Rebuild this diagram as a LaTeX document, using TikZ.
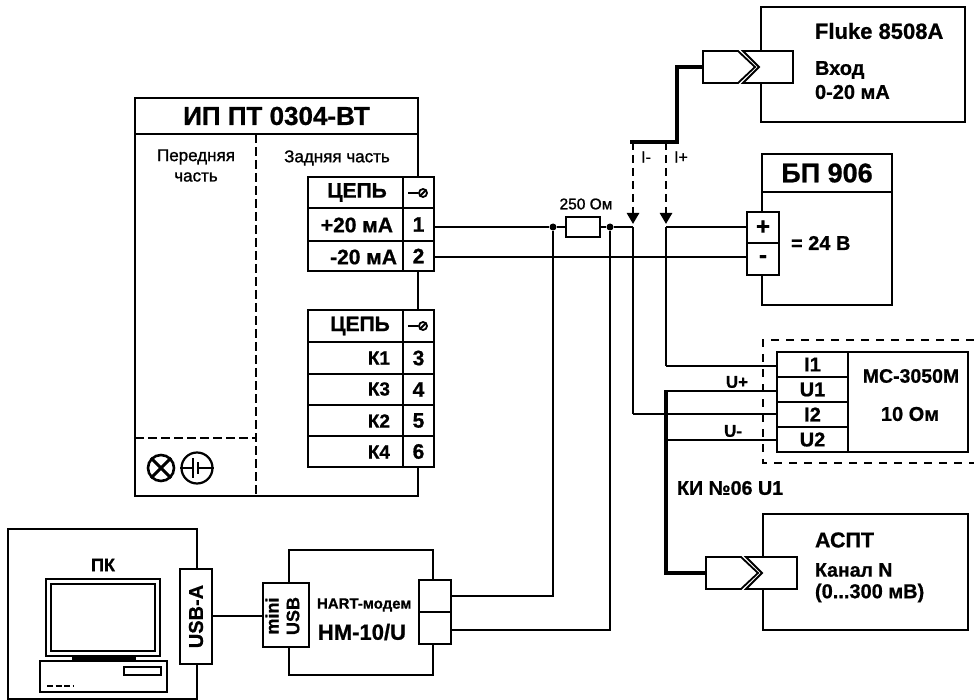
\documentclass[tikz,border=0pt]{standalone}
\usepackage{fontspec}
\usetikzlibrary{arrows.meta}
\setmainfont[BoldFeatures={FakeBold=0.8}]{Liberation Sans}
\newfontfamily\semi[FakeBold=1.2]{Liberation Sans}
\newcommand\fsz[1]{\fontsize{#1}{#1}\selectfont}
\newcommand\bfs[1]{\fontsize{#1}{#1}\selectfont\bfseries}
% \bx{name}{x1}{y1}{x2}{y2}{style}{text}
\newcommand\bx[7]{%
  \pgfmathsetmacro\bxx{(#2+#4)/2}\pgfmathsetmacro\bxy{(#3+#5)/2}%
  \pgfmathsetmacro\bxw{#4-#2}\pgfmathsetmacro\bxh{#5-#3}%
  \node[#6,minimum width=\bxw pt,minimum height=\bxh pt] (#1) at (\bxx,\bxy) {#7};}
% \plug{x}{y}{width}
\newcommand\plug[3]{%
  \begin{scope}[shift={(#1,#2)},line width=1.8pt,line join=miter]
    \draw[fill=white] (40,0) -- (#3,0) -- (#3,32) -- (40,32) -- (56,16) -- cycle;
    \draw[fill=white] (0,0) -- (35,0) -- (52,16) -- (35,32) -- (0,32) -- cycle;
  \end{scope}}
\tikzset{
  box/.style={draw,fill=white,line width=2.8pt,inner sep=0pt,outer sep=0pt},
  cell/.style={draw,fill=white,line width=2.4pt,inner sep=0pt,outer sep=0pt},
  thincell/.style={draw,line width=1.4pt,inner sep=0pt,outer sep=0pt},
  txt/.style={inner sep=0pt,outer sep=0pt},
  wire/.style={line width=1.9pt},
  vwire/.style={line width=2.5pt},
  bus/.style={line width=4pt},
  probe/.style={line width=2.6pt,dash pattern=on 8pt off 5pt,-{Triangle[width=12pt,length=11pt]}},
  dashbox/.style={line width=2.2pt,dash pattern=on 8pt off 7pt},
  joint/.style={circle,fill=black,inner sep=0pt,minimum size=7pt},
}
\begin{document}
\begin{tikzpicture}[x=1pt,y=-1pt]
\useasboundingbox (0,0) rectangle (974,700);
\fill[white] (0,0) rectangle (974,700);

% --- instrument
\bx{ip}{135}{98}{418}{496}{box}{}
\bx{iptitle}{135}{98}{418}{134}{box}{\bfs{26}ИП ПТ 0304-ВТ}
\coordinate (ipm) at (256,134);
\coordinate (ipb) at (256,496);
\coordinate (ipl) at (135,438);
\coordinate (ipc) at (256,438);
\draw[line width=2.3pt,dash pattern=on 9pt off 4pt] (ipm) -- (ipb);
\draw[line width=2.3pt,dash pattern=on 9pt off 4pt] (ipl) -- (ipc);
\node[txt] (front) at (196,157) {\semi\fsz{17}Передняя};
\node[txt] (front2) at (196,177) {\semi\fsz{17}часть};
\node[txt] (back) at (337,158) {\semi\fsz{17}Задняя часть};

% --- terminal table 1
\bx{a0}{308}{177}{403}{208}{cell}{\hspace{3pt}\bfs{21}ЦЕПЬ}
\bx{a1}{308}{208}{403}{241}{cell}{}
\bx{a2}{308}{241}{403}{271}{cell}{}
\bx{n0}{403}{177}{434}{208}{cell}{}
\bx{n1}{403}{208}{434}{241}{cell}{\bfs{21}1}
\bx{n2}{403}{241}{434}{271}{cell}{\bfs{21}2}
\node[txt,anchor=east] (ta1) at (393,225) {\bfs{21}+20 мА};
\node[txt,anchor=east] (ta2) at (397,257) {\bfs{21}-20 мА};
% --- terminal table 2
\bx{b0}{308}{310}{403}{342}{cell}{\hspace{9pt}\bfs{21}ЦЕПЬ}
\bx{b1}{308}{342}{403}{374}{cell}{}
\bx{b2}{308}{374}{403}{405}{cell}{}
\bx{b3}{308}{405}{403}{436}{cell}{}
\bx{b4}{308}{436}{403}{467}{cell}{}
\bx{m0}{403}{310}{434}{342}{cell}{}
\bx{m1}{403}{342}{434}{374}{cell}{\bfs{21}3}
\bx{m2}{403}{374}{434}{405}{cell}{\bfs{21}4}
\bx{m3}{403}{405}{434}{436}{cell}{\bfs{21}5}
\bx{m4}{403}{436}{434}{467}{cell}{\bfs{21}6}
\node[txt,anchor=east] (tb1) at (390,358) {\bfs{19}К1};
\node[txt,anchor=east] (tb2) at (390,389) {\bfs{19}К3};
\node[txt,anchor=east] (tb3) at (390,421) {\bfs{19}К2};
\node[txt,anchor=east] (tb4) at (390,452) {\bfs{19}К4};
% screw symbols
\node[circle,draw,line width=1.8pt,inner sep=0pt,minimum size=8pt] (s0) at (423,193) {};
\draw[line width=1.8pt] (408,193) -- (s0.west) (s0.south west) -- (s0.north east);
\node[circle,draw,line width=1.8pt,inner sep=0pt,minimum size=8pt] (s1) at (423,326) {};
\draw[line width=1.8pt] (408,326) -- (s1.west) (s1.south west) -- (s1.north east);
% panel symbols
\node[circle,draw,line width=2.6pt,inner sep=0pt,minimum size=26pt] (lamp) at (161,468) {};
\draw[line width=3pt] (lamp.north east) -- (lamp.south west) (lamp.north west) -- (lamp.south east);
\node[circle,draw,line width=2.2pt,inner sep=0pt,minimum size=31pt] (gnd) at (197,468) {};
\draw[line width=2pt] (gnd.west) -- (193,468) (193,458) -- (193,478) (198,462) -- (198,474) (198,468) -- (gnd.east);

% --- PC
\bx{pc}{8}{529}{197}{699}{box}{}
\node[txt] (pclabel) at (103,565) {\bfs{18}ПК};
\bx{mon}{46}{579}{160}{656}{draw,line width=1.6pt,inner sep=0pt}{}
\bx{scr}{51}{584}{155}{651}{draw,line width=2.6pt,inner sep=0pt}{}
\bx{stand}{72}{657}{135}{660}{draw,fill=black,line width=.6pt,inner sep=0pt}{}
\bx{base}{40}{661}{167}{692}{draw,line width=2pt,inner sep=0pt}{}
\bx{slot}{124}{667}{161}{675}{draw,line width=1.8pt,inner sep=0pt}{}
\draw[line width=2.6pt,dash pattern=on 6pt off 2.5pt] (47,686) -- (73,686);
\bx{usba}{180}{569}{212}{664}{cell}{\rotatebox{90}{\bfs{20}USB-A}}

% --- modem
\bx{modem}{289}{550}{433}{675}{box}{}
\bx{mini}{263}{583}{309}{647}{cell}{}
\node[txt,rotate=90] (tmini) at (272,616) {\bfs{18}mini};
\node[txt,rotate=90] (tusb) at (293,616) {\bfs{18}USB};
\node[txt,anchor=west] (thart) at (317,605) {\bfs{15}HART-модем};
\node[txt] (thm) at (362,632) {\bfs{22}НМ-10/U};
\bx{h1}{419}{580}{451}{612}{cell}{}
\bx{h2}{419}{612}{451}{644}{cell}{}

% --- Fluke
\bx{fluke}{761}{7}{965}{122}{box}{}
\plug{703}{51}{90}
\coordinate (fpl) at (703,67);
\node[txt,anchor=west] (t1) at (815,31) {\bfs{22}Fluke 8508A};
\node[txt,anchor=west] (t2) at (815,70) {\bfs{20}Вход};
\node[txt,anchor=west] (t3) at (815,92) {\bfs{20}0-20 мА};

% --- power supply
\bx{bp}{762}{154}{892}{305}{box}{}
\bx{bpt}{762}{154}{892}{192}{box}{\bfs{27}БП 906}
\bx{plus}{747}{212}{779}{243}{cell}{\bfs{24}+}
\bx{minus}{747}{243}{779}{275}{cell}{\bfs{24}-}
\node[txt,anchor=west] (t4) at (791,243) {\bfs{20}= 24 В};

% --- MC-3050M
\bx{ms}{777}{352}{968}{452}{box}{}
\bx{i1}{777}{352}{848}{377}{thincell}{\bfs{20}I1}
\bx{u1}{777}{377}{848}{402}{thincell}{\bfs{20}U1}
\bx{i2}{777}{402}{848}{427}{thincell}{\bfs{20}I2}
\bx{u2}{777}{427}{848}{452}{thincell}{\bfs{20}U2}
\draw[line width=2.6pt] (848,352) -- (848,452);
\node[txt] (t5) at (911,376) {\bfs{19.5}МС-3050М};
\node[txt] (t6) at (910,414) {\bfs{20}10 Ом};
\coordinate (da) at (974,340);
\coordinate (db) at (763,340);
\coordinate (dc) at (763,463);
\coordinate (dd) at (974,463);
\draw[dashbox] (da) -- (db) -- (dc) -- (dd);

% --- ASPT
\bx{aspt}{763}{514}{968}{630}{box}{}
\plug{706}{557}{91}
\coordinate (apl) at (706,573);
\node[txt,anchor=west] (t7) at (815,540) {\bfs{21.5}АСПТ};
\node[txt,anchor=west] (t8) at (815,570) {\bfs{19.5}Канал N};
\node[txt,anchor=west] (t9) at (815,593) {\bfs{20}(0...300 мВ)};
\node[txt,anchor=west] (t10) at (677,488) {\bfs{19.7}КИ №06 U1};

% --- resistor and wires
\bx{res}{566}{217}{600}{237}{draw,line width=2.5pt,inner sep=0pt}{}
\node[txt] (t11) at (586,204) {\semi\fsz{15.5}250 Ом};
\node[joint] (ja) at (553,227) {};
\node[joint] (jb) at (610,227) {};
\coordinate (w2) at (747,257);
\coordinate (pu) at (633,227);
\coordinate (pv) at (666,227);
\draw[wire] (n1.east |- res.west) -- (ja) -- (res.west);
\draw[wire] (res.east) -- (jb) -- (pu);
\draw[wire] (n2.east |- w2) -- (w2);
\draw[wire] (pv) -- (plus.west |- pv);
\draw[vwire] (pu) -- (633,414);
\draw[vwire] (pv) -- (666,366);
\draw[wire] (666,366) -- (i1.west |- 0,366);
\draw[wire] (633,414) -- (i2.west |- 0,414);
\draw[wire] (666,391) -- (u1.west |- 0,391);
\draw[wire] (666,440) -- (u2.west |- 0,440);
\draw[bus,line join=miter] (apl) -- (666,573) -- (666,390);
\draw[vwire] (ja) -- (553,596) -- (h1.east |- 0,596);
\draw[vwire] (jb) -- (610,630) -- (h2.east |- 0,630);
\draw[line width=2.8pt] (usba.east |- 0,616) -- (mini.west |- 0,616);
\node[txt] (t12) at (737,382) {\bfs{17}U+};
\node[txt] (t13) at (733,431) {\bfs{17}U-};

% --- probes
\coordinate (pa) at (630,142);
\coordinate (pb) at (633,142);
\coordinate (pc2) at (666,142);
\coordinate (pe) at (677,142);
\draw[line width=3.6pt,line join=miter] (fpl) -- (677,67) -- (pe) -- (pa);
\draw[probe] (pb) -- (633,224);
\draw[probe] (pc2) -- (666,224);
\node[txt] (t14) at (646,157) {\semi\fsz{16}I-};
\node[txt] (t15) at (681,157) {\semi\fsz{16}I+};
\end{tikzpicture}
\end{document}
